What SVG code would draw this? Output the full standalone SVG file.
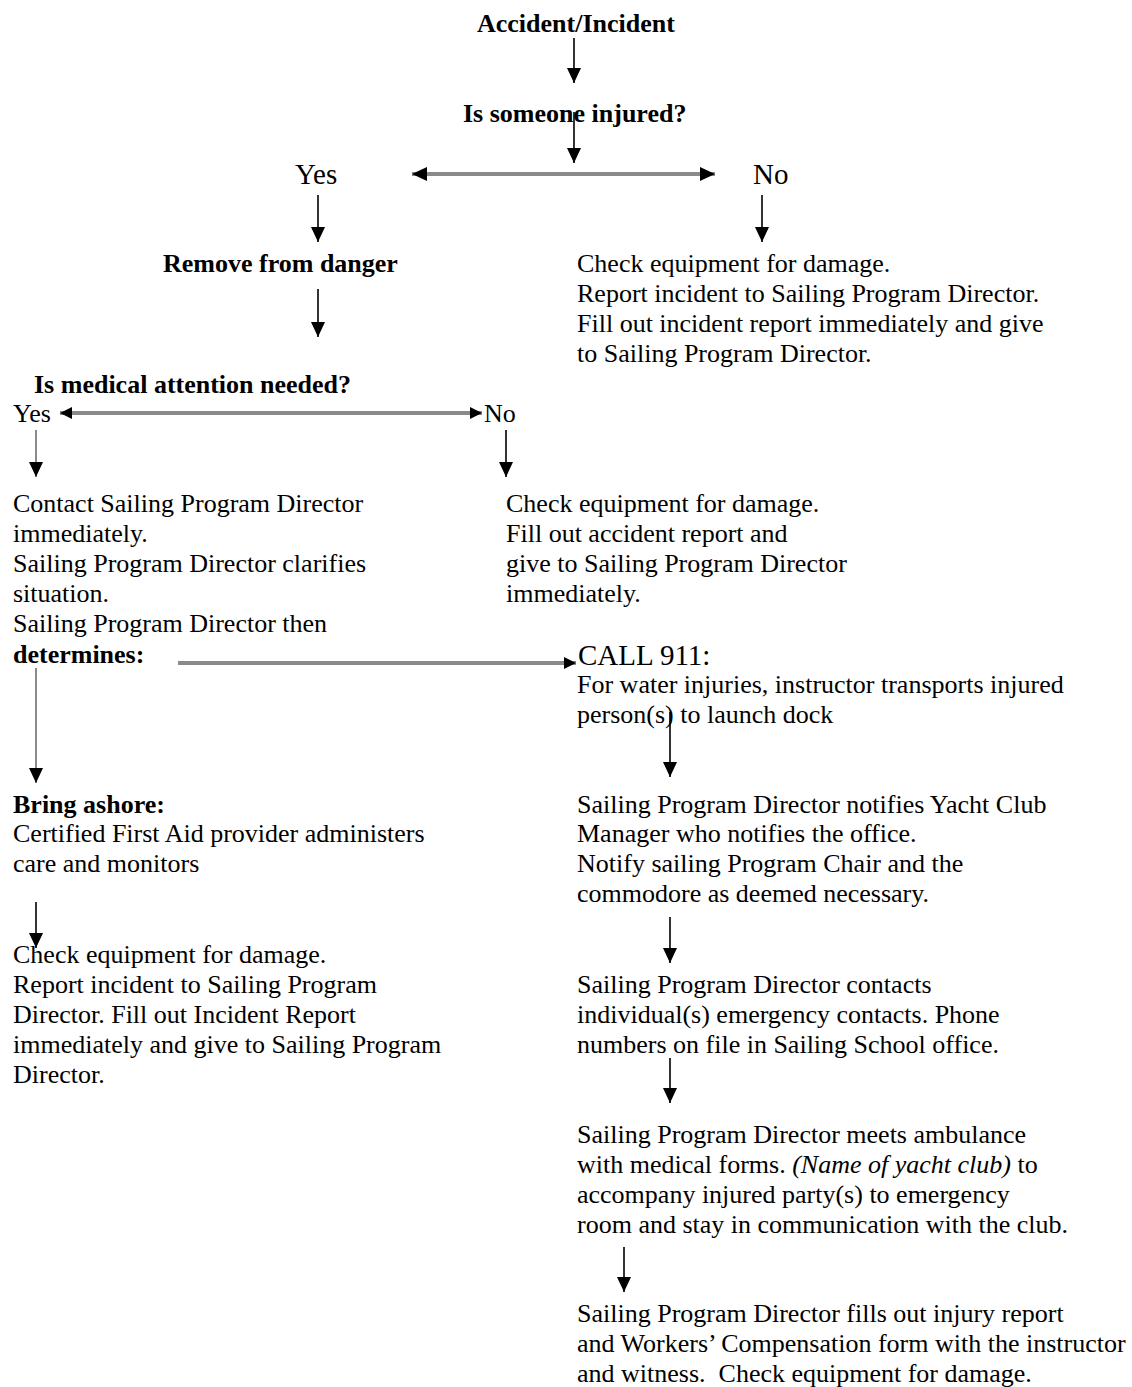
<svg xmlns="http://www.w3.org/2000/svg" width="1132" height="1387" viewBox="0 0 1132 1387">
<style>
text{font-family:"Liberation Serif","Times New Roman",serif;font-size:26px;fill:#000}
.b{font-weight:bold}
.big{font-size:29px}
.ln{stroke:#000;stroke-width:1.6;fill:none}
.gl{stroke:#8a8a8a;stroke-width:2;fill:none}
.gt{stroke:#8a8a8a;stroke-width:4;fill:none}
</style>
<defs>
<marker id="ah" markerUnits="userSpaceOnUse" markerWidth="16" markerHeight="16" refX="15" refY="7" orient="auto-start-reverse" viewBox="0 0 16 16">
<path d="M0,0 L15,7 L0,14 z" fill="#000"/>
</marker>
<marker id="ahs" markerUnits="userSpaceOnUse" markerWidth="14" markerHeight="14" refX="12" refY="6" orient="auto-start-reverse" viewBox="0 0 14 14">
<path d="M0,0 L12,6 L0,12 z" fill="#000"/>
</marker>
</defs>
<rect width="1132" height="1387" fill="#fff"/>

<g id="connectors">
<line class="ln" x1="574" y1="38" x2="574" y2="83" marker-end="url(#ah)"/>
<line class="ln" x1="574" y1="112" x2="574" y2="163" marker-end="url(#ah)"/>
<line class="gt" x1="412" y1="174" x2="715" y2="174" marker-start="url(#ah)" marker-end="url(#ah)"/>
<line class="ln" x1="318" y1="195" x2="318" y2="242" marker-end="url(#ah)"/>
<line class="ln" x1="762" y1="195" x2="762" y2="242" marker-end="url(#ah)"/>
<line class="ln" x1="318" y1="289" x2="318" y2="337" marker-end="url(#ah)"/>
<line class="gt" x1="60" y1="413" x2="482" y2="413" marker-start="url(#ahs)" marker-end="url(#ahs)"/>
<line class="gl" x1="36" y1="430" x2="36" y2="477" marker-end="url(#ah)"/>
<line class="ln" x1="506" y1="430" x2="506" y2="477" marker-end="url(#ah)"/>
<line class="gt" x1="178" y1="663" x2="576" y2="663" marker-end="url(#ahs)"/>
<line class="gl" x1="36" y1="668" x2="36" y2="783" marker-end="url(#ah)"/>
<line class="ln" x1="670" y1="712" x2="670" y2="777" marker-end="url(#ah)"/>
<line class="ln" x1="36" y1="902" x2="36" y2="948" marker-end="url(#ah)"/>
<line class="ln" x1="670" y1="917" x2="670" y2="963" marker-end="url(#ah)"/>
<line class="ln" x1="670" y1="1058" x2="670" y2="1103" marker-end="url(#ah)"/>
<line class="ln" x1="624" y1="1247" x2="624" y2="1292" marker-end="url(#ah)"/>
</g>

<g id="accident"><text class="b" x="477" y="32">Accident/Incident</text></g>
<g id="injured"><text class="b" x="463" y="122">Is someone injured?</text></g>
<g id="yes1"><text class="big" x="295" y="184">Yes</text></g>
<g id="no1"><text class="big" x="753" y="184">No</text></g>
<g id="remove"><text class="b" x="163" y="272">Remove from danger</text></g>
<g id="noinjury">
<text x="577" y="272">Check equipment for damage.</text>
<text x="577" y="302">Report incident to Sailing Program Director.</text>
<text x="577" y="332">Fill out incident report immediately and give</text>
<text x="577" y="362">to Sailing Program Director.</text>
</g>
<g id="medical"><text class="b" x="34" y="393">Is medical attention needed?</text></g>
<g id="yes2"><text x="13" y="422">Yes</text></g>
<g id="no2"><text x="484" y="422">No</text></g>
<g id="contact">
<text x="13" y="512">Contact Sailing Program Director</text>
<text x="13" y="542">immediately.</text>
<text x="13" y="572">Sailing Program Director clarifies</text>
<text x="13" y="602">situation.</text>
<text x="13" y="632">Sailing Program Director then</text>
<text class="b" x="13" y="663">determines:</text>
</g>
<g id="nomedical">
<text x="506" y="512">Check equipment for damage.</text>
<text x="506" y="542">Fill out accident report and</text>
<text x="506" y="572">give to Sailing Program Director</text>
<text x="506" y="602">immediately.</text>
</g>
<g id="call911">
<text class="big" x="578" y="665">CALL 911:</text>
<text x="577" y="693">For water injuries, instructor transports injured</text>
<text x="577" y="723">person(s) to launch dock</text>
</g>
<g id="ashore">
<text class="b" x="13" y="813">Bring ashore:</text>
<text x="13" y="842">Certified First Aid provider administers</text>
<text x="13" y="872">care and monitors</text>
</g>
<g id="notify">
<text x="577" y="813">Sailing Program Director notifies Yacht Club</text>
<text x="577" y="842">Manager who notifies the office.</text>
<text x="577" y="872">Notify sailing Program Chair and the</text>
<text x="577" y="902">commodore as deemed necessary.</text>
</g>
<g id="checkleft">
<text x="13" y="963">Check equipment for damage.</text>
<text x="13" y="993">Report incident to Sailing Program</text>
<text x="13" y="1023">Director. Fill out Incident Report</text>
<text x="13" y="1053">immediately and give to Sailing Program</text>
<text x="13" y="1083">Director.</text>
</g>
<g id="contacts">
<text x="577" y="993">Sailing Program Director contacts</text>
<text x="577" y="1023">individual(s) emergency contacts. Phone</text>
<text x="577" y="1053">numbers on file in Sailing School office.</text>
</g>
<g id="ambulance">
<text x="577" y="1143">Sailing Program Director meets ambulance</text>
<text x="577" y="1173">with medical forms. <tspan font-style="italic">(Name of yacht club)</tspan> to</text>
<text x="577" y="1203">accompany injured party(s) to emergency</text>
<text x="577" y="1233">room and stay in communication with the club.</text>
</g>
<g id="report">
<text x="577" y="1322">Sailing Program Director fills out injury report</text>
<text x="577" y="1352">and Workers’ Compensation form with the instructor</text>
<text x="577" y="1382" xml:space="preserve">and witness.  Check equipment for damage.</text>
</g>
</svg>
